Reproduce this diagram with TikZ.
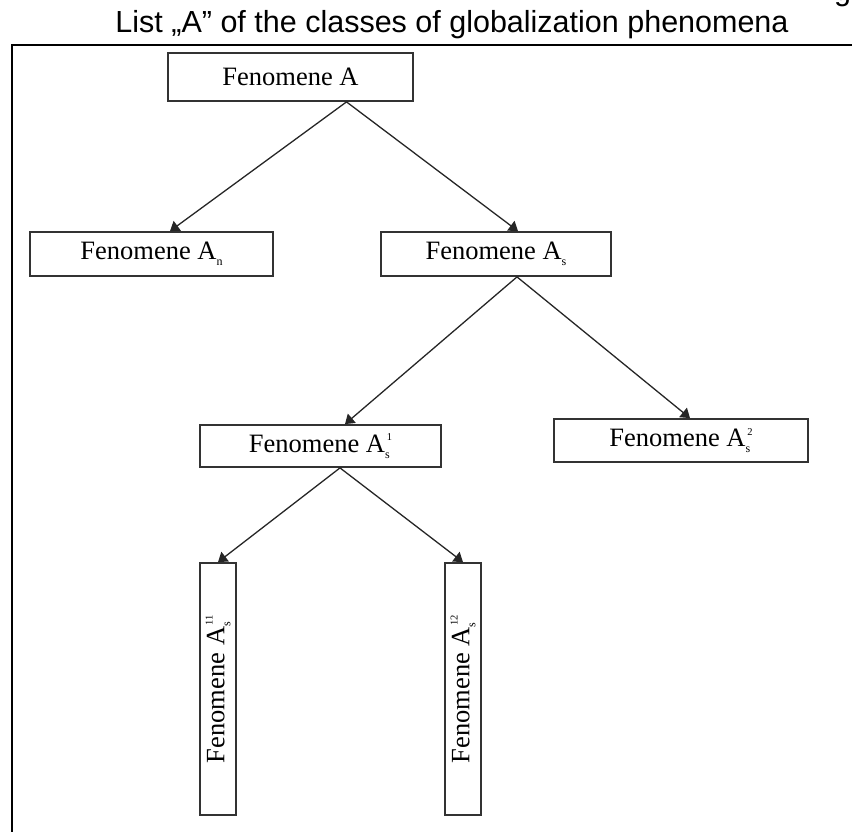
\documentclass[tikz,border=0pt]{standalone}
\usepackage{fontspec}
\setmainfont{Liberation Serif}
\newfontfamily\titlefont{Liberation Sans}
\usetikzlibrary{arrows.meta}
\newcommand{\subsc}[1]{\raisebox{-0.22em}{\fontsize{12}{12}\selectfont #1}}
\newcommand{\subsup}[2]{\makebox[0pt][l]{\raisebox{-0.22em}{\fontsize{12}{12}\selectfont #1}}\raisebox{0.45em}{\fontsize{10.5}{10.5}\selectfont\,#2}}
\begin{document}
\begin{tikzpicture}[x=1pt,y=-1pt,
  box/.style={draw=black!80,line width=1.8pt,fill=white,inner sep=0pt,
    font=\fontsize{26.5}{30}\selectfont},
  vbox/.style={box,minimum width=36pt,minimum height=252pt},
  conn/.style={draw=black!85,line width=1.3pt,-{Triangle[width=12pt,length=9pt]}},
  ttl/.style={font=\titlefont\fontsize{30.5}{34}\selectfont,inner sep=0pt}]
\useasboundingbox (0,0) rectangle (852,832);
% partial line above the title, cut off by the page edge
\node[ttl,anchor=base west] (frag) at (834,1) {g};
\node[ttl,anchor=base] (title) at (452,33) {List „A” of the classes of globalization phenomena};
% frame
\draw[line width=2.4pt] (12,840) -- (12,45) -- (860,45);
% boxes
\node[box,minimum width=245pt,minimum height=48pt] (A) at (290.5,77) {Fenomene A};
\node[box,minimum width=243pt,minimum height=44pt] (AN) at (151.5,254) {Fenomene A\subsc{\textsc{n}}};
\node[box,minimum width=230pt,minimum height=44pt] (As) at (496,254) {Fenomene A\subsc{s}};
\node[box,minimum width=241pt,minimum height=42pt] (As1) at (320.5,446) {Fenomene A\subsup{s}{1}};
\node[box,minimum width=254pt,minimum height=43pt] (As2) at (681,440.5) {Fenomene A\subsup{s}{2}};
\node[vbox] (As11) at (218,689) {\rotatebox{90}{Fenomene A\subsup{s}{11}}};
\node[vbox] (As12) at (463,689) {\rotatebox{90}{Fenomene A\subsup{s}{12}}};
% connectors
\draw[conn] ([xshift=56pt]A.south) -- ([xshift=18.5pt]AN.north);
\draw[conn] ([xshift=56pt]A.south) -- ([xshift=22pt]As.north);
\draw[conn] ([xshift=21pt]As.south) -- ([xshift=24.5pt]As1.north);
\draw[conn] ([xshift=21pt]As.south) -- ([xshift=9pt]As2.north);
\draw[conn] ([xshift=19.5pt]As1.south) -- (As11.north);
\draw[conn] ([xshift=19.5pt]As1.south) -- (As12.north);
\end{tikzpicture}
\end{document}
